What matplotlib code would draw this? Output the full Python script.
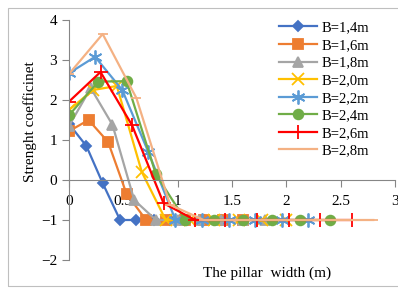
import matplotlib
matplotlib.use('Agg')
import matplotlib.pyplot as plt
from matplotlib.patches import Rectangle

# largeur du pilier (m) pour chaque valeur de B
x_b14 = [0, 0.16, 0.31, 0.47, 0.62, 0.78, 0.93, 1.09, 1.24, 1.4]
x_b16 = [0, 0.18, 0.36, 0.53, 0.71, 0.89, 1.07, 1.24, 1.42, 1.6]
x_b18 = [0, 0.2, 0.4, 0.6, 0.8, 1.0, 1.2, 1.4, 1.6, 1.8]
x_b20 = [0, 0.22, 0.44, 0.67, 0.89, 1.11, 1.33, 1.56, 1.78, 2.0]
x_b22 = [0, 0.24, 0.49, 0.73, 0.98, 1.22, 1.47, 1.71, 1.96, 2.2]
x_b24 = [0, 0.27, 0.53, 0.8, 1.07, 1.33, 1.6, 1.87, 2.13, 2.4]
x_b26 = [0, 0.29, 0.58, 0.87, 1.16, 1.44, 1.73, 2.02, 2.31, 2.6]
x_b28 = [0, 0.31, 0.62, 0.93, 1.24, 1.56, 1.87, 2.18, 2.49, 2.8]

# coefficient de resistance
y_b14 = [1.4, 0.85, -0.08, -1, -1, -1, -1, -1, -1, -1]
y_b16 = [1.22, 1.5, 0.95, -0.35, -1, -1, -1, -1, -1, -1]
y_b18 = [1.35, 2.3, 1.38, -0.5, -1, -1, -1, -1, -1, -1]
y_b20 = [1.75, 2.25, 2.35, 0.2, -1, -1, -1, -1, -1, -1]
y_b22 = [2.67, 3.08, 2.25, 0.7, -1, -1, -1, -1, -1, -1]
y_b24 = [1.62, 2.46, 2.47, 0.14, -1, -1, -1, -1, -1, -1]
y_b26 = [1.96, 2.7, 1.37, -0.58, -1, -1, -1, -1, -1, -1]
y_b28 = [2.65, 3.65, 2.05, -0.62, -1, -1, -1, -1, -1, -1]

labels = ['B=1,4m', 'B=1,6m', 'B=1,8m', 'B=2,0m', 'B=2,2m', 'B=2,4m', 'B=2,6m', 'B=2,8m']
xs = [x_b14, x_b16, x_b18, x_b20, x_b22, x_b24, x_b26, x_b28]
ys = [y_b14, y_b16, y_b18, y_b20, y_b22, y_b24, y_b26, y_b28]

couleurs = ['#4472C4', '#ED7D31', '#A5A5A5', '#FFC000', '#5B9BD5', '#70AD47', '#FF0000', '#F4B183']
marqueurs = ['D', 's', '^', 'x', (6, 2, 0), 'o', '+', '_']
tailles = [5.5, 6.5, 6.5, 9, 10, 7, 10, 7]

plt.rcParams['font.family'] = ['Liberation Serif', 'DejaVu Serif']

fig = plt.figure(figsize=(3.98, 2.89), dpi=100)
fig.patches.append(Rectangle((8 / 398, 3 / 289), 1.0, 278 / 289, transform=fig.transFigure,
                             fill=False, edgecolor='#BFBFBF', linewidth=0.8))
ax = fig.add_axes([69 / 398, 29 / 289, 326 / 398, 240 / 289])

for x, y, c, m, t, lab in zip(xs, ys, couleurs, marqueurs, tailles, labels):
    ax.plot(x, y, color=c, marker=m, markersize=t, linewidth=1.6,
            markeredgewidth=1.3, label=lab)

ax.set_xlim(0, 3)
ax.set_ylim(-2, 4)
ax.set_xticks([0, 0.5, 1, 1.5, 2, 2.5, 3])
ax.set_xticklabels(['0', '0.5', '1', '1.5', '2', '2.5', '3'])
ax.set_yticks([-2, -1, 0, 1, 2, 3, 4])

# axes style Excel
for cote in ['top', 'right']:
    ax.spines[cote].set_visible(False)
ax.spines['bottom'].set_position(('data', 0))
ax.spines['left'].set_position(('data', 0))
ax.spines['bottom'].set_color('#868686')
ax.spines['left'].set_color('#868686')
ax.tick_params(axis='both', colors='#868686', labelcolor='black', length=5, width=0.8, labelsize=11)
ax.tick_params(axis='x', pad=6)
ax.patch.set_visible(False)

fig.text(267 / 398, 16 / 289, 'The pillar  width (m)', ha='center', va='center', fontsize=11)
fig.text(30 / 398, 1 - 122 / 289, 'Strenght coefficinet', ha='center', va='center',
         rotation=90, fontsize=11)

ax.legend(loc='upper left', bbox_to_anchor=(272 / 398, 1 - 14 / 289), bbox_transform=fig.transFigure,
          frameon=False, fontsize=10.5, handlelength=2.6, labelspacing=0.3, borderpad=0,
          handletextpad=0.3)

fig.savefig('out.png', dpi=100)
